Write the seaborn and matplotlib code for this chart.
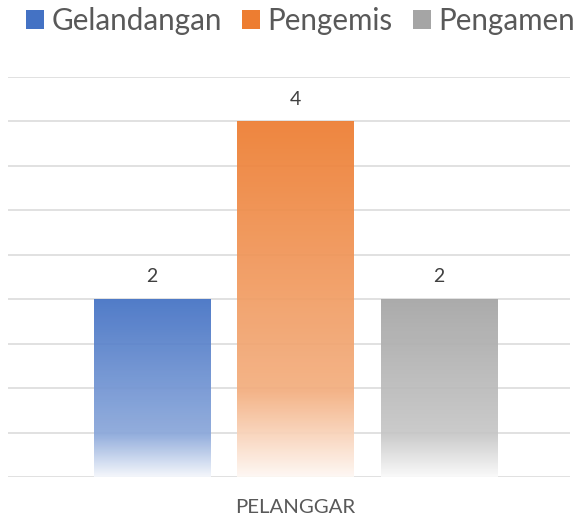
import numpy as np
import pandas as pd
import matplotlib.pyplot as plt
import matplotlib.patches as mpatches
from matplotlib.colors import to_rgb
import seaborn as sns

plt.switch_backend('Agg')

# data
category = ['PELANGGAR', 'PELANGGAR', 'PELANGGAR']
series = ['Gelandangan', 'Pengemis', 'Pengamen']
values = [2, 4, 2]
colors = ['#4472C4', '#ED7D31', '#A5A5A5']

sns.set_theme(style='white')
plt.rcParams['font.family'] = ['Lato', 'DejaVu Sans']

df = pd.DataFrame({'kategori': category, 'kelompok': series, 'jumlah': values})

fig = plt.figure(figsize=(5.76, 5.22), dpi=100)
ax = fig.add_axes([8 / 576, 45 / 522, 562 / 576, 400 / 522])
sns.barplot(data=df, x='kategori', y='jumlah', hue='kelompok', hue_order=series,
            palette=colors, width=0.8, gap=0.19, ax=ax, legend=False)


def gradient(color, n=256):
    # excel style fill: full colour at top, lighter tint, fading to white at the bottom
    c = np.array(to_rgb(color))
    w = np.ones(3)
    mid = c * 0.62 + w * 0.38
    low = c * 0.06 + w * 0.94
    f = np.linspace(0, 1, n)
    rgb = np.zeros((n, 3))
    k = 0.24
    for i, t in enumerate(f):
        if t < k:
            s = t / k
            rgb[i] = low * (1 - s) + mid * s
        else:
            s = (t - k) / (1 - k)
            rgb[i] = mid * (1 - s) + c * s
    img = np.ones((n, 1, 4))
    img[:, 0, :3] = rgb
    img[:, 0, 3] = 0.93
    return img


for cont, col in zip(ax.containers, colors):
    for bar in cont:
        x, w, h = bar.get_x(), bar.get_width(), bar.get_height()
        ax.imshow(gradient(col), extent=[x, x + w, 0, h], origin='lower',
                  aspect='auto', zorder=bar.get_zorder(), interpolation='bilinear')
        bar.set_facecolor('none')
        bar.set_edgecolor('none')
    ax.bar_label(cont, padding=10, fontsize=14, color='#404040')

ax.set_xlim(-0.534, 0.510)
ax.set_ylim(0, 4.5)
ax.set_yticks(np.arange(0, 4.51, 0.5))
ax.set_yticklabels([])
ax.yaxis.grid(True, color='#D9D9D9', linewidth=1.1)
ax.set_axisbelow(True)
for s in ax.spines.values():
    s.set_visible(False)
ax.tick_params(axis='both', length=0)
ax.tick_params(axis='x', pad=16, labelsize=14.7, labelcolor='#595959')
ax.set_xlabel('')
ax.set_ylabel('')

handles = [mpatches.Patch(facecolor=c, edgecolor='none', label=s) for s, c in zip(series, colors)]
leg = fig.legend(handles=handles, loc='center', bbox_to_anchor=(300.5 / 576, 1 - 21 / 522),
                 ncol=3, frameon=False, fontsize=21.3, handlelength=0.62, handleheight=0.58,
                 handletextpad=0.24, columnspacing=0.68, borderpad=0)
for t in leg.get_texts():
    t.set_color('#595959')

fig.savefig('out.png', dpi=100)
